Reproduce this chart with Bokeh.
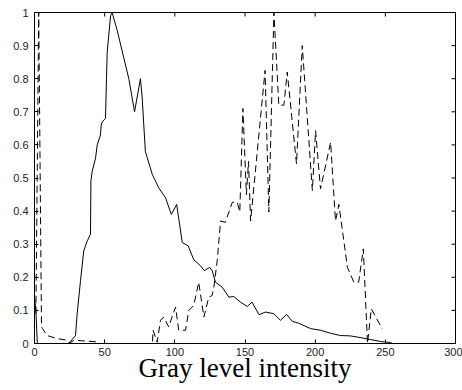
import math
from bokeh.plotting import figure
from bokeh.models import Range1d, FixedTicker
from bokeh.embed import file_html
from bokeh.resources import INLINE

# Solid curve (histogram 1)
solid_x = [0, 1, 2, 24.4, 29.2, 30.4, 32.8, 35.1, 37.6, 39.9, 40.2, 41.1, 43.5, 44.7, 47, 47.5, 48.3,
           50.6, 51.3, 51.8, 54.2, 55.3, 59, 63.5, 67.2, 71.3, 75.5, 76.7, 79, 84, 88.6, 93.4, 97.5,
           101.3, 105.3, 109.5, 113.5, 118.3, 121, 124.8, 126.6, 129, 133.8, 138.5, 142, 146.8, 151.6,
           155, 160, 164.6, 170.5, 175.3, 179.6, 183.7, 188.4, 196.7, 203.8, 211, 218, 225, 232,
           239.5, 246.6, 253.7, 255]
solid_y = [0.14, 0.10, 0.0, 0.0, 0.024, 0.09, 0.19, 0.28, 0.31, 0.33, 0.49, 0.52, 0.56, 0.60, 0.63, 0.66, 0.67,
           0.68, 0.80, 0.88, 0.99, 1.0, 0.945, 0.865, 0.80, 0.70, 0.80, 0.745, 0.58, 0.51, 0.47, 0.44, 0.39,
           0.42, 0.305, 0.295, 0.253, 0.235, 0.22, 0.23, 0.22, 0.185, 0.17, 0.14, 0.142, 0.125, 0.112,
           0.125, 0.087, 0.095, 0.09, 0.07, 0.088, 0.067, 0.061, 0.045, 0.04, 0.031, 0.024, 0.023, 0.018,
           0.012, 0.006, 0.003, 0.0]

# Dashed curve (histogram 2)
dash_x = [1, 3, 5, 5.7, 9, 16, 23, 25, 28, 44.7, 47, 84, 84.5, 87.4, 89.8, 92, 95.7, 98, 100.5, 102.8,
          107.6, 110, 113.5, 117, 120.7, 124.2, 126.6, 127.8, 130.2, 132.6, 136, 138.5, 141, 144.5,
          146.3, 148.5, 151, 152.5, 154, 164.3, 167, 170.6, 174.1, 177.7, 180.1, 186.7, 190.8, 198,
          200.3, 203.8, 211, 214.5, 216.9, 218.5, 223, 227.6, 231, 234.3, 237.3, 240, 247.8]
dash_y = [0.09, 1.0, 0.05, 0.045, 0.024, 0.015, 0.01, 0.0, 0.01, 0.005, 0.0, 0.0, 0.04, 0.004, 0.07, 0.08,
          0.05, 0.08, 0.11, 0.04, 0.04, 0.10, 0.115, 0.185, 0.08, 0.14, 0.145, 0.17, 0.25, 0.37, 0.366,
          0.397, 0.427, 0.427, 0.397, 0.71, 0.45, 0.55, 0.37, 0.825, 0.397, 1.0, 0.72, 0.72, 0.82, 0.543,
          0.90, 0.462, 0.643, 0.467, 0.608, 0.37, 0.42, 0.37, 0.23, 0.185, 0.185, 0.286, 0.0, 0.105, 0.044]

x_ticks = [0, 50, 100, 150, 200, 250, 300]
y_ticks = [0, 0.1, 0.2, 0.3, 0.4, 0.5, 0.6, 0.7, 0.8, 0.9, 1]
y_tick_labels = {0: "0", 0.1: "0.1", 0.2: "0.2", 0.3: "0.3", 0.4: "0.4", 0.5: "0.5",
                 0.6: "0.6", 0.7: "0.7", 0.8: "0.8", 0.9: "0.9", 1: "1"}
x_label = "Gray level intensity"
X_MAX = 300
Y_MAX = 1

p = figure(width=462, height=390, output_backend="svg", toolbar_location=None,
           x_range=Range1d(0, X_MAX), y_range=Range1d(0, Y_MAX),
           min_border_left=34, min_border_right=7, min_border_top=12, min_border_bottom=47)
p.grid.visible = False
p.outline_line_color = "black"
p.outline_line_width = 1
p.background_fill_color = "white"

for ax, ticks in ((p.xaxis[0], x_ticks), (p.yaxis[0], y_ticks)):
    ax.ticker = FixedTicker(ticks=ticks)
    ax.major_tick_in = 4
    ax.major_tick_out = 0
    ax.minor_tick_line_color = None
    ax.axis_line_color = "black"
    ax.major_tick_line_color = "black"
    ax.major_label_text_font = "Liberation Sans"
    ax.major_label_text_font_size = "11px"
    ax.major_label_text_color = "#222222"

p.xaxis[0].major_label_standoff = 4
p.yaxis[0].major_label_standoff = 6
p.yaxis[0].major_label_overrides = y_tick_labels
p.xaxis[0].axis_label = x_label
p.xaxis[0].axis_label_text_font = "Liberation Serif"
p.xaxis[0].axis_label_text_font_style = "normal"
p.xaxis[0].axis_label_text_font_size = "27px"
p.xaxis[0].axis_label_text_color = "black"
p.xaxis[0].axis_label_standoff = -6

# inward ticks on the top and right edges (clipped to the frame)
p.scatter(x_ticks, [Y_MAX] * len(x_ticks), marker="dash", size=8, angle=math.pi / 2,
          line_color="black", line_width=1)
p.scatter([X_MAX] * len(y_ticks), y_ticks, marker="dash", size=8,
          line_color="black", line_width=1)

p.line(solid_x, solid_y, line_color="black", line_width=1)
p.line(dash_x, dash_y, line_color="black", line_width=1, line_dash="7 4")

open("out.html", "w").write(file_html(p, INLINE))
